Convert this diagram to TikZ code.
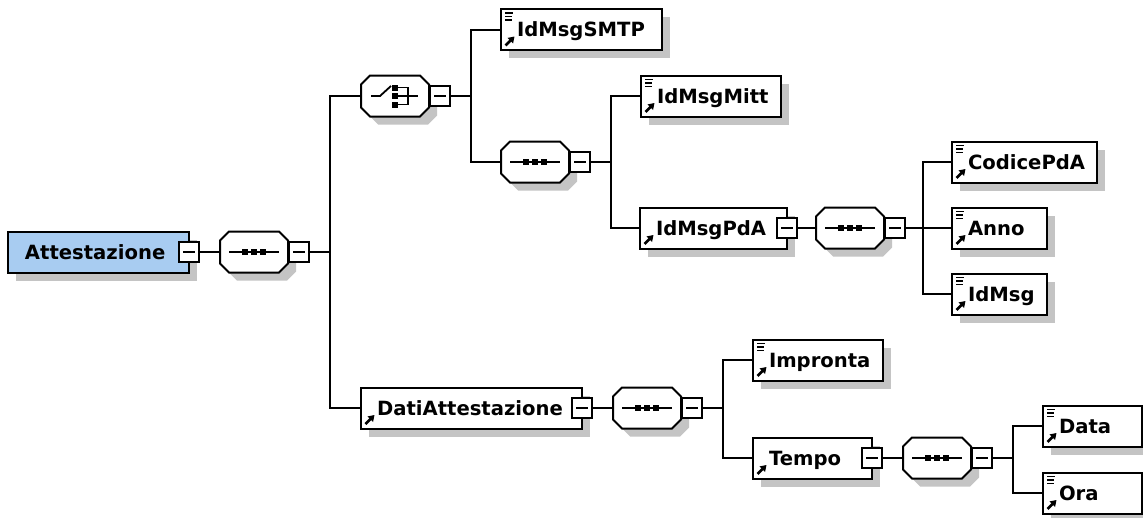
\documentclass[tikz,border=0pt]{standalone}
\usepackage{fontspec}
\newfontfamily\elemfont{DejaVu Sans}
\usetikzlibrary{shadows,arrows.meta}
\definecolor{shadowc}{RGB}{196,196,196}
\definecolor{rootblue}{RGB}{168,204,241}
\tikzset{
  conn/.style={line width=2pt},
  elem/.style={draw, line width=2pt, fill=white, anchor=west, minimum height=41pt,
    inner xsep=0pt, inner ysep=0pt, outer sep=0pt, text height=15pt, text depth=1pt,
    font=\elemfont\bfseries\fontsize{19.6}{23}\selectfont,
    drop shadow={shadow xshift=8pt, shadow yshift=-8pt, fill=shadowc, opacity=1}},
  btn/.style={draw, line width=2pt, fill=white, minimum size=20pt, inner sep=0pt, outer sep=0pt,
    path picture={\draw[line width=1.7pt] ([xshift=4pt]path picture bounding box.west) -- ([xshift=-4pt]path picture bounding box.east);}},
  octp/.style={insert path={(9,-20.5) -- (59,-20.5) -- (68,-11.5) -- (68,11.5) -- (59,20.5) -- (9,20.5) -- (0,11.5) -- (0,-11.5) -- cycle}},
  icon/.style={line width=1.8pt},
}
% element box: name, left, cy, width, text, icons (0 none, 1 arrow, 2 arrow+lines)
\newcommand\xelem[6]{%
  \node[elem] (#1) at (#2,#3) {\makebox[#4][l]{\hspace{16pt}#5}};
  \ifnum#6>0
    \draw[line width=2.6pt, -{Triangle[length=6pt,width=7.5pt]}] ([xshift=4.5pt,yshift=4.5pt]#1.south west) -- ++(9pt,9pt);
  \fi
  \ifnum#6>1
    \draw[line width=1.7pt] ([xshift=4pt,yshift=-4pt]#1.north west) -- ++(8pt,0pt)
      ([xshift=4pt,yshift=-7.5pt]#1.north west) -- ++(7pt,0pt)
      ([xshift=4pt,yshift=-11pt]#1.north west) -- ++(7pt,0pt);
  \fi
}
\newcommand\seqicon{%
  \draw[icon] (9,0) -- (59,0);
  \fill (22,-3) rectangle (28,3);
  \fill (31,-3) rectangle (37,3);
  \fill (40,-3) rectangle (46,3);
}
\newcommand\choiceicon{%
  \draw[icon] (10,0) -- (19,0) -- (30,-10);
  \fill (31,-11.5) rectangle (37,-5.5);
  \fill (31,-3) rectangle (37,3);
  \fill (31,5.5) rectangle (37,11.5);
  \draw[icon] (37,-8.5) -- (47,-8.5) -- (47,8.5) -- (37,8.5);
  \draw[icon] (37,0) -- (57,0);
}
% compositor: name, left, cy, icon
\newcommand\xcomp[4]{%
  \begin{scope}[shift={(#2,#3)}]
    \begin{scope}[shift={(8,8)}]\fill[shadowc, octp];\end{scope}
    \draw[line width=2pt, fill=white, octp];
    #4
  \end{scope}
  \node[inner sep=0pt, outer sep=0pt, minimum width=68pt, minimum height=41pt, anchor=west] (#1) at (#2,#3) {};
  \node[btn] (#1b) at (#2+79,#3) {};
}
\begin{document}
\begin{tikzpicture}[x=1pt,y=-1pt]
\useasboundingbox[fill=white] (0,0) rectangle (1143,517);

% root
\node[elem, fill=rootblue] (att) at (8,252) {\makebox[181pt][l]{\hspace{17pt}Attestazione}};
\node[btn] (attb) at (att.east) {};

\xcomp{s1}{220}{252}{\seqicon}
\xcomp{ch}{361}{96}{\choiceicon}
\xelem{smtp}{501}{29.5}{161pt}{IdMsgSMTP}{2}
\xcomp{s2}{501}{162}{\seqicon}
\xelem{mitt}{641}{96}{140pt}{IdMsgMitt}{2}
\xelem{pda}{640}{228}{147pt}{IdMsgPdA}{1}
\node[btn] (pdab) at (pda.east) {};
\xcomp{s3}{816}{228}{\seqicon}
\xelem{codice}{952}{162}{145pt}{CodicePdA}{2}
\xelem{anno}{952}{228}{95pt}{Anno}{2}
\xelem{idmsg}{952}{294}{95pt}{IdMsg}{2}

\xelem{dati}{361}{408}{221pt}{DatiAttestazione}{1}
\node[btn] (datib) at (dati.east) {};
\xcomp{s4}{613}{408}{\seqicon}
\xelem{impronta}{753}{360}{130pt}{Impronta}{2}
\xelem{tempo}{753}{458}{119pt}{Tempo}{1}
\node[btn] (tempob) at (tempo.east) {};
\xcomp{s5}{903}{458}{\seqicon}
\xelem{data}{1043}{426}{99pt}{Data}{2}
\xelem{ora}{1043}{493}{99pt}{Ora}{2}

% connectors
\coordinate (j1) at (330,252);
\coordinate (j2) at (471,96);
\coordinate (j3) at (611,162);
\coordinate (j4) at (923,228);
\coordinate (j5) at (723,408);
\coordinate (j6) at (1013,458);

\draw[conn] (attb.east) -- (s1.west);
\draw[conn] (s1b.east) -- (j1);
\draw[conn] (j1) |- (ch.west);
\draw[conn] (j1) |- (dati.west);

\draw[conn] (chb.east) -- (j2);
\draw[conn] (j2) |- (smtp.west);
\draw[conn] (j2) |- (s2.west);

\draw[conn] (s2b.east) -- (j3);
\draw[conn] (j3) |- (mitt.west);
\draw[conn] (j3) |- (pda.west);

\draw[conn] (pdab.east) -- (s3.west);
\draw[conn] (s3b.east) -- (j4);
\draw[conn] (j4) |- (codice.west);
\draw[conn] (j4) -- (anno.west);
\draw[conn] (j4) |- (idmsg.west);

\draw[conn] (datib.east) -- (s4.west);
\draw[conn] (s4b.east) -- (j5);
\draw[conn] (j5) |- (impronta.west);
\draw[conn] (j5) |- (tempo.west);

\draw[conn] (tempob.east) -- (s5.west);
\draw[conn] (s5b.east) -- (j6);
\draw[conn] (j6) |- (data.west);
\draw[conn] (j6) |- (ora.west);
\end{tikzpicture}
\end{document}
